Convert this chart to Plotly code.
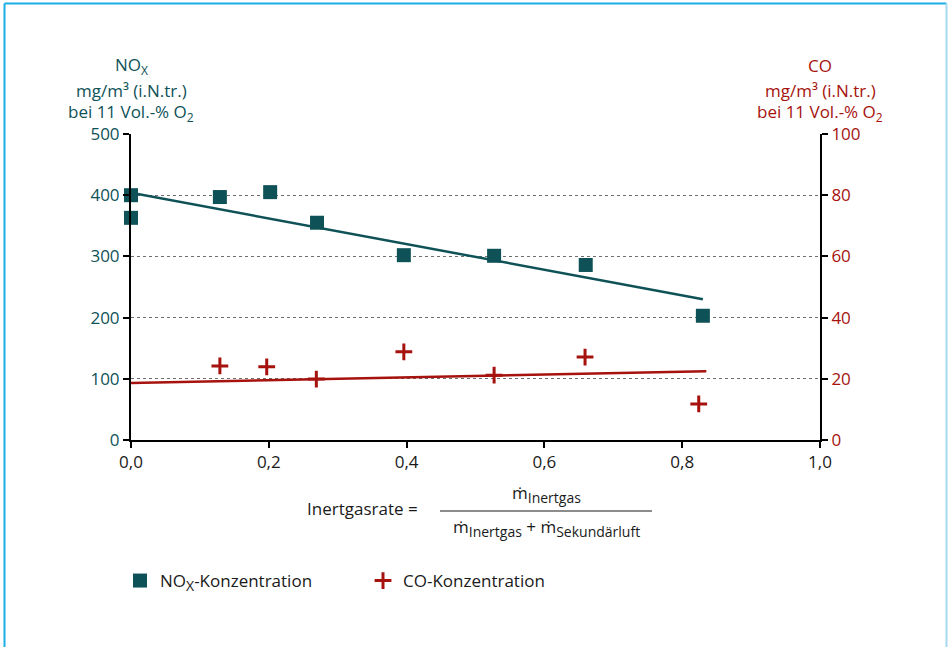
import plotly.graph_objects as go

# ---- data ----
nox_x = [0.0, 0.0, 0.129, 0.202, 0.270, 0.396, 0.527, 0.660, 0.830]
nox_y = [400, 363, 397, 405, 355, 302, 301, 286, 203]
co_x = [0.129, 0.197, 0.269, 0.396, 0.527, 0.659, 0.824]
co_y = [24.2, 23.9, 19.9, 28.8, 21.2, 27.1, 11.8]
nox_trend_x = [0.0, 0.83]
nox_trend_y = [404, 230]
co_trend_x = [0.0, 0.835]
co_trend_y = [18.6, 22.5]
x_ticks = [0.0, 0.2, 0.4, 0.6, 0.8, 1.0]
left_ticks = [0, 100, 200, 300, 400, 500]
right_ticks = [0, 20, 40, 60, 80, 100]
left_title_lines = ["NO<sub><span style='font-size:12px'>X</span></sub>",
                    "mg/m³ (i.N.tr.)",
                    "bei 11 Vol.-% O<sub><span style='font-size:12px'>2</span></sub>"]
right_title_lines = ["CO", "mg/m³ (i.N.tr.)",
                     "bei 11 Vol.-% O<sub><span style='font-size:12px'>2</span></sub>"]

TEAL = "#0e5257"
RED = "#a6120d"
TXT = "#1a1a1a"
FONT = "Open Sans"
FS = 17

W, H = 948, 647
ML, MR, MT, MB = 131, 128, 134, 207
PW = W - ML - MR
PH = H - MT - MB

def px_to_paper_x(px):
    return (px - ML) / PW

def px_to_paper_y(py):
    return (H - MB - py) / PH

def sub(t):
    return "<sub><span style='font-size:14px'>" + t + "</span></sub>"

fig = go.Figure()

fig.add_trace(go.Scatter(
    x=nox_trend_x, y=nox_trend_y, mode="lines", cliponaxis=False,
    line=dict(color=TEAL, width=2.5), showlegend=False, hoverinfo="skip"))
fig.add_trace(go.Scatter(
    x=co_trend_x, y=co_trend_y, mode="lines", yaxis="y2", cliponaxis=False,
    line=dict(color=RED, width=2.5), showlegend=False, hoverinfo="skip"))
fig.add_trace(go.Scatter(
    x=nox_x, y=nox_y, mode="markers", name="NO" + sub("X") + "-Konzentration",
    cliponaxis=False,
    marker=dict(symbol="square", size=14, color=TEAL)))
fig.add_trace(go.Scatter(
    x=co_x, y=co_y, mode="markers", name="CO-Konzentration", yaxis="y2",
    cliponaxis=False,
    marker=dict(symbol="cross-thin", size=12, color=RED,
                line=dict(color=RED, width=3))))

fig.update_layout(
    width=W, height=H,
    margin=dict(l=ML, r=MR, t=MT, b=MB),
    paper_bgcolor="white", plot_bgcolor="white",
    separators=",.",
    font=dict(family=FONT, size=FS, color=TXT),
    xaxis=dict(
        range=[0, 1], tickvals=x_ticks, tickformat=".1f",
        showline=True, linecolor="black", linewidth=2,
        ticks="outside", ticklen=6, tickwidth=2, tickcolor="black",
        showgrid=False, zeroline=False,
        tickfont=dict(family=FONT, size=FS, color=TXT)),
    yaxis=dict(
        range=[0, 500], tickvals=left_ticks,
        showline=True, linecolor="black", linewidth=2,
        ticks="outside", ticklen=6, tickwidth=2, tickcolor="black",
        showgrid=True, gridcolor="#6e6e6e", gridwidth=1, griddash="3px,3px",
        zeroline=False,
        tickfont=dict(family=FONT, size=FS, color=TEAL)),
    yaxis2=dict(
        range=[0, 100], tickvals=right_ticks, overlaying="y", side="right",
        showline=True, linecolor="black", linewidth=2,
        ticks="outside", ticklen=6, tickwidth=2, tickcolor="black",
        showgrid=False, zeroline=False,
        tickfont=dict(family=FONT, size=FS, color=RED)),
    legend=dict(
        orientation="h", x=px_to_paper_x(120), y=px_to_paper_y(581),
        xanchor="left", yanchor="middle",
        font=dict(family=FONT, size=FS, color=TXT),
        entrywidth=198, bgcolor="rgba(0,0,0,0)"),
)

# axis titles, one annotation per line
line_centers = [66, 90, 113]
for txt, yc in zip(left_title_lines, line_centers):
    fig.add_annotation(
        xref="paper", yref="paper", x=0, y=px_to_paper_y(yc),
        xanchor="center", yanchor="middle", showarrow=False,
        text=txt, font=dict(family=FONT, size=FS, color=TEAL))
for txt, yc in zip(right_title_lines, line_centers):
    fig.add_annotation(
        xref="paper", yref="paper", x=1, y=px_to_paper_y(yc),
        xanchor="center", yanchor="middle", showarrow=False,
        text=txt, font=dict(family=FONT, size=FS, color=RED))

# formula
fig.add_annotation(
    xref="paper", yref="paper", x=px_to_paper_x(305), y=px_to_paper_y(508),
    xanchor="left", yanchor="middle", showarrow=False,
    text="Inertgasrate =", font=dict(family=FONT, size=FS, color=TXT))
fig.add_annotation(
    xref="paper", yref="paper", x=px_to_paper_x(546), y=px_to_paper_y(494),
    xanchor="center", yanchor="middle", showarrow=False,
    text="ṁ" + sub("Inertgas"), font=dict(family=FONT, size=FS, color=TXT))
fig.add_annotation(
    xref="paper", yref="paper", x=px_to_paper_x(546), y=px_to_paper_y(528),
    xanchor="center", yanchor="middle", showarrow=False,
    text="ṁ" + sub("Inertgas") + " + ṁ" + sub("Sekundärluft"),
    font=dict(family=FONT, size=FS, color=TXT))
fig.add_shape(type="line", xref="paper", yref="paper",
              x0=px_to_paper_x(440), x1=px_to_paper_x(652),
              y0=px_to_paper_y(511), y1=px_to_paper_y(511),
              line=dict(color=TXT, width=1.2))

# frame
fig.add_shape(type="line", xref="paper", yref="paper",
              x0=px_to_paper_x(4.5), x1=px_to_paper_x(4.5),
              y0=px_to_paper_y(3.5), y1=px_to_paper_y(660),
              line=dict(color="#1aaee6", width=2))
fig.add_shape(type="line", xref="paper", yref="paper",
              x0=px_to_paper_x(4.5), x1=px_to_paper_x(946.5),
              y0=px_to_paper_y(3.5), y1=px_to_paper_y(3.5),
              line=dict(color="#1aaee6", width=2))
fig.add_shape(type="line", xref="paper", yref="paper",
              x0=px_to_paper_x(946.5), x1=px_to_paper_x(946.5),
              y0=px_to_paper_y(3.5), y1=px_to_paper_y(660),
              line=dict(color="#a6d9f0", width=2))

fig.write_html("out.html", config={"displayModeBar": False},
               post_script="document.body.style.margin='0';")
